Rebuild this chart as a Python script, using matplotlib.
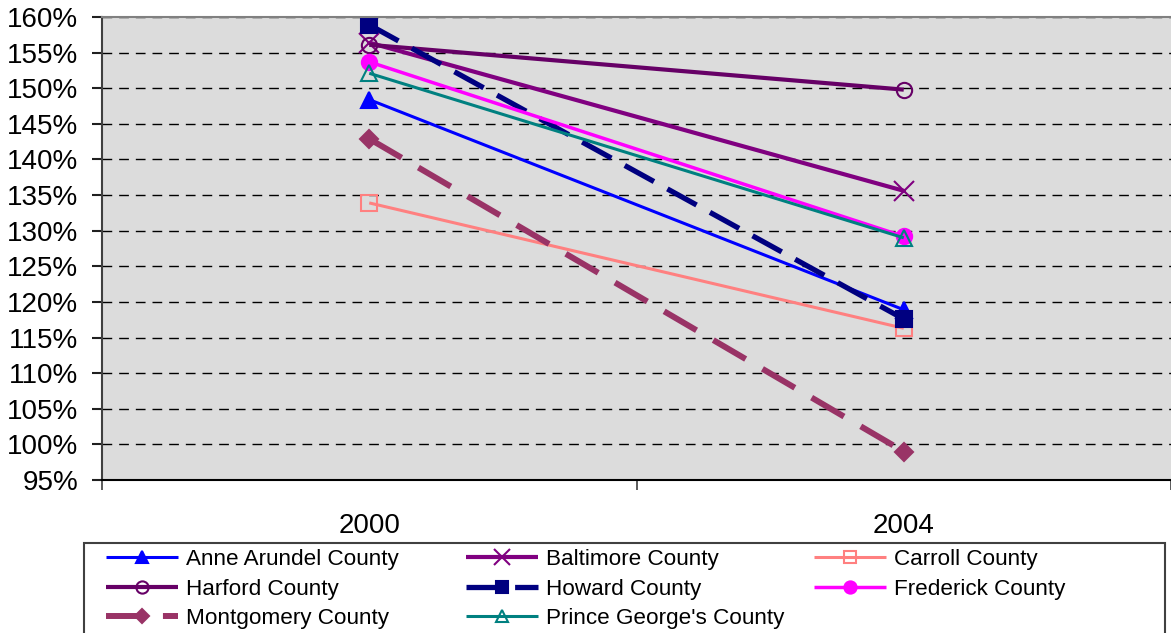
import numpy as np
import matplotlib.pyplot as plt
from matplotlib.ticker import FuncFormatter, FixedLocator
from matplotlib.patches import Rectangle

plt.rcParams['font.family'] = ['Liberation Sans', 'DejaVu Sans']
plt.rcParams['lines.scale_dashes'] = False

years = ["2000", "2004"]

anne_arundel = [148.4, 118.9]
baltimore = [156.4, 135.6]
carroll = [133.9, 116.3]
harford = [156.1, 149.8]
howard = [158.9, 117.6]
frederick = [153.7, 129.2]
montgomery = [142.9, 99.0]
prince_georges = [152.1, 129.0]

# (label, values, color, marker, filled, linewidth, dashes, markersize)
series = [
	("Anne Arundel County", anne_arundel, "#0000FF", "^", True, 2.2, None, 11),
	("Baltimore County", baltimore, "#800080", "x", True, 3.0, None, 15),
	("Carroll County", carroll, "#FF8080", "s", False, 2.2, None, 11),
	("Harford County", harford, "#660066", "o", False, 3.0, None, 11),
	("Howard County", howard, "#000080", "s", True, 3.8, (24, 11), 11),
	("Frederick County", frederick, "#FF00FF", "o", True, 2.5, None, 11),
	("Montgomery County", montgomery, "#993366", "D", True, 4.3, (27, 14), 9),
	("Prince George's County", prince_georges, "#008080", "^", False, 2.2, None, 11),
]

W, H = 1171, 633
fig = plt.figure(figsize=(W/100, H/100), dpi=100)
ax = fig.add_axes([102/W, 1-480/H, 1-102/W, (480-17)/H])
ax.set_facecolor("#dcdcdc")

x = np.arange(len(years))
handles = {}
for label, vals, col, mk, filled, lw, dashes, ms in series:
	kw = dict(color=col, lw=lw, marker=mk, markersize=ms, label=label,
		markeredgecolor=col, markeredgewidth=1.5, solid_capstyle="butt")
	if not filled:
		kw["markerfacecolor"] = "none"
	if dashes is not None:
		kw["linestyle"] = (0, dashes)
	ln, = ax.plot(x, vals, **kw)
	handles[label] = ln

ax.set_xlim(-0.5, 1.5)
ax.set_ylim(95, 160)
ax.set_yticks(np.arange(95, 161, 5))
ax.yaxis.set_major_formatter(FuncFormatter(lambda v, p: "%d%%" % v))
ax.set_xticks(x)
ax.set_xticklabels(years)
ax.xaxis.set_minor_locator(FixedLocator([-0.5, 0.5, 1.5]))
ax.tick_params(axis="x", which="major", length=0, pad=24, labelsize=20)
ax.tick_params(axis="x", which="minor", length=7, width=1.2, color="#404040")
ax.tick_params(axis="y", length=7, width=1.5, pad=10, labelsize=20, color="#202020")

ax.grid(axis="y", color="black", lw=1.0, linestyle=(0, (7, 5)))
ax.set_axisbelow(True)

ax.spines["left"].set_color("#404040")
ax.spines["left"].set_linewidth(1.5)
ax.spines["bottom"].set_color("black")
ax.spines["bottom"].set_linewidth(1.5)
ax.spines["top"].set_color("#808080")
ax.spines["top"].set_linewidth(1.5)
ax.spines["right"].set_visible(False)

# legend box (Excel style, wider than its content)
fig.patches.append(Rectangle((84/W, -0.05), (1165-84)/W, 0.05+1-543/H,
	transform=fig.transFigure, facecolor="white", edgecolor="#404040", lw=1.5))

# Excel lays the legend out row by row in fixed-width columns
columns = [
	(106, ["Anne Arundel County", "Harford County", "Montgomery County"]),
	(466, ["Baltimore County", "Howard County", "Prince George's County"]),
	(814, ["Carroll County", "Frederick County"]),
]
for xpos, names in columns:
	leg = fig.legend([handles[k] for k in names], names,
		loc="upper left", bbox_to_anchor=(xpos/W, 1-549/H),
		ncol=1, fontsize=16.2, frameon=False,
		handlelength=3.2, handletextpad=0.35, labelspacing=0.38, borderpad=0,
		borderaxespad=0, markerscale=0.8)

plt.savefig("out.png", dpi=100)
